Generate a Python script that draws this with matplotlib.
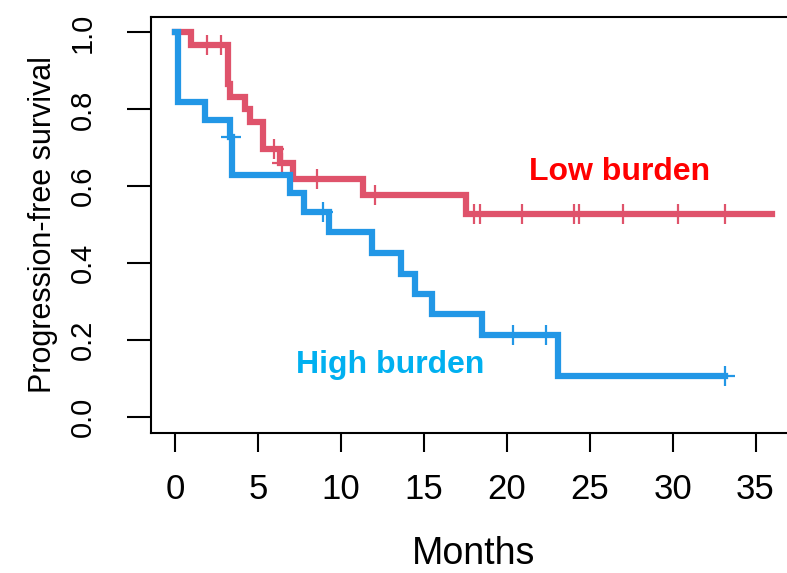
import matplotlib
matplotlib.use("Agg")
import matplotlib.pyplot as plt
import numpy as np

# Low burden group: step times (months) and survival after each step
low_times = [0.95, 3.2, 3.3, 4.2, 4.5, 5.3, 6.33, 7.1, 11.33, 17.55]
low_surv = [0.967, 0.865, 0.833, 0.800, 0.768, 0.697, 0.660, 0.618, 0.577, 0.527]
low_censor = [1.95, 2.8, 6.0, 6.43, 8.55, 12.05, 18.05, 18.4, 20.95,
              24.05, 24.35, 27.0, 30.3, 33.15]
low_end = 36.0

# High burden group
high_times = [0.2, 1.8, 3.3, 3.47, 6.95, 7.8, 9.3, 11.9, 13.6, 14.5, 15.5, 18.5, 23.1]
high_surv = [0.818, 0.773, 0.727, 0.630, 0.582, 0.533, 0.480, 0.426, 0.373,
             0.320, 0.267, 0.213, 0.107]
high_censor = [3.4, 8.9, 20.4, 22.4, 33.15]
high_end = 33.15

red = "#DF536B"
blue = "#2297E6"
font = "Liberation Sans"
plt.rcParams["font.family"] = [font, "DejaVu Sans"]


def km_curve(ax, times, surv, censor, end, color):
    xs = [0] + list(times) + [end]
    ys = [1.0] + list(surv) + [surv[-1]]
    ax.step(xs, ys, where="post", color=color, lw=4.5, solid_joinstyle="miter")
    levels = np.array([1.0] + list(surv))
    idx = np.searchsorted(times, censor, side="right")
    ax.plot(censor, levels[idx], ls="none", marker="+", ms=14, mew=1.6, color=color)


fig = plt.figure(figsize=(7.87, 5.73), dpi=100)
ax = fig.add_axes([151 / 787, 140.5 / 573, 645 / 787, 415.5 / 573])

km_curve(ax, low_times, low_surv, low_censor, low_end, red)
km_curve(ax, high_times, high_surv, high_censor, high_end, blue)

ax.set_xlim(-1.44, 37.44)
ax.set_ylim(-0.04, 1.04)
ax.set_xticks(np.arange(0, 36, 5))
ax.set_yticks(np.arange(0, 1.01, 0.2))
ax.set_yticklabels(["0.0", "0.2", "0.4", "0.6", "0.8", "1.0"], rotation=90, va="center")
ax.tick_params(axis="x", direction="out", length=14, width=1.5, pad=15, labelsize=25)
ax.tick_params(axis="y", direction="out", length=17, width=1.5, pad=22, labelsize=21)
for s in ax.spines.values():
    s.set_linewidth(1.5)

ax.set_xlabel("Months", fontsize=27, labelpad=22)
ax.set_ylabel("Progression-free survival", fontsize=22, labelpad=8)

ax.text(26.8, 0.636, "Low burden", color="#FF0000", fontsize=23, fontweight="bold",
        ha="center", va="center")
ax.text(13.0, 0.135, "High burden", color="#00B0F0", fontsize=23, fontweight="bold",
        ha="center", va="center")

fig.savefig("out.png", dpi=100)
